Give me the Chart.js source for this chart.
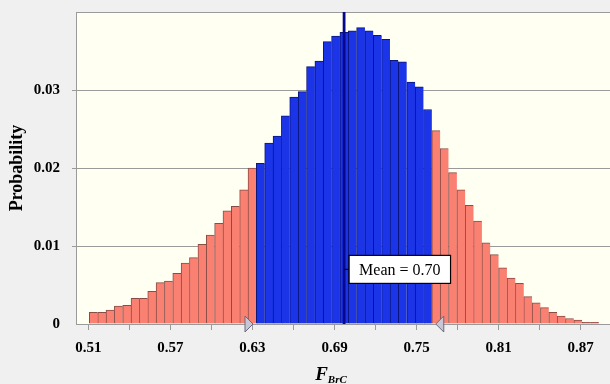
<!DOCTYPE html>
<html>
<head>
<meta charset="utf-8">
<script src="https://cdn.jsdelivr.net/npm/chart.js@4.4.1/dist/chart.umd.min.js"></script>
<style>
  html, body { margin: 0; padding: 0; background: #f0f0f0; }
  #wrap { width: 610px; height: 384px; }
</style>
</head>
<body>
<div id="wrap"><canvas id="histChart" width="610" height="384"></canvas></div>
<script>
// ----------------- DATA -----------------
// bin centres of the forecast histogram (F_BrC)
var binCenters = [
  0.5138, 0.5199, 0.5260, 0.5321, 0.5382, 0.5443, 0.5504, 0.5565, 0.5626, 0.5687,
  0.5748, 0.5809, 0.5870, 0.5932, 0.5993, 0.6054, 0.6115, 0.6176, 0.6237, 0.6298,
  0.6359, 0.6420, 0.6481, 0.6542, 0.6603, 0.6665, 0.6726, 0.6787, 0.6848, 0.6909,
  0.6970, 0.7031, 0.7092, 0.7153, 0.7214, 0.7275, 0.7336, 0.7397, 0.7459, 0.7520,
  0.7581, 0.7642, 0.7703, 0.7764, 0.7825, 0.7886, 0.7947, 0.8008, 0.8069, 0.8130,
  0.8192, 0.8253, 0.8314, 0.8375, 0.8436, 0.8497, 0.8558, 0.8619, 0.8680, 0.8741,
  0.8802
];
// probability of each bin
var probabilities = [
  0.0015, 0.0015, 0.0018, 0.0023, 0.0024, 0.0033, 0.0033, 0.0042, 0.0053, 0.0055,
  0.0065, 0.0078, 0.0085, 0.0102, 0.0114, 0.0129, 0.0145, 0.0151, 0.0172, 0.0200,
  0.0206, 0.0232, 0.0241, 0.0267, 0.0291, 0.0298, 0.0330, 0.0337, 0.0362, 0.0369,
  0.0374, 0.0376, 0.0380, 0.0376, 0.0370, 0.0365, 0.0338, 0.0336, 0.0310, 0.0304,
  0.0275, 0.0248, 0.0225, 0.0194, 0.0172, 0.0152, 0.0132, 0.0104, 0.0089, 0.0072,
  0.0059, 0.0052, 0.0035, 0.0027, 0.0021, 0.0015, 0.0010, 0.0007, 0.0005, 0.0002,
  0.0002
];
var certaintyRange = [0.6326, 0.7611];   // blue part between the two markers
var meanValue = 0.697;
var meanLabel = "Mean = 0.70";
var meanLabelAt = 0.007;                 // y value where the label box sits
var xLabelTicks = ["0.51", "0.57", "0.63", "0.69", "0.75", "0.81", "0.87"];
var yLabelTicks = ["0", "0.01", "0.02", "0.03"];

// ----------------- STYLE -----------------
var SERIF = '"Liberation Serif", "Times New Roman", serif';
var RED = '#fa8072', RED_EDGE = '#8a4c46';
var BLUE = '#1c34e8', BLUE_EDGE = '#0a1678';
var GRID = '#9a9a9a';

function inRange(x) {
  return x >= certaintyRange[0] && x <= certaintyRange[1];
}

var points = [];
for (var i = 0; i < binCenters.length; i++) {
  points.push({x: binCenters[i], y: probabilities[i]});
}

// backgrounds: grey page, ivory plot area
var backgroundPlugin = {
  id: 'bg',
  beforeDraw: function(chart) {
    var c = chart.ctx, a = chart.chartArea;
    c.save();
    c.fillStyle = '#f0f0f0';
    c.fillRect(0, 0, chart.width, chart.height);
    c.fillStyle = '#fffff2';
    c.fillRect(a.left, a.top, a.right - a.left, a.bottom - a.top);
    c.restore();
  }
};

// mean line + label box, certainty markers, x title
var overlayPlugin = {
  id: 'overlay',
  afterDatasetsDraw: function(chart) {
    var c = chart.ctx, a = chart.chartArea;
    var xs = chart.scales.x, ys = chart.scales.y;
    var mx = xs.getPixelForValue(meanValue);
    c.save();
    c.strokeStyle = '#08088c';
    c.lineWidth = 2.8;
    c.beginPath();
    c.moveTo(mx, a.bottom);
    c.lineTo(mx, a.top);
    c.stroke();

    var by = ys.getPixelForValue(meanLabelAt);
    c.font = '16px ' + SERIF;
    var tw = c.measureText(meanLabel).width;
    var bx = mx + 5, bw = tw + 20, bh = 28;
    c.lineWidth = 1.2;
    c.strokeStyle = '#000';
    c.beginPath();
    c.moveTo(mx, by);
    c.lineTo(bx, by);
    c.stroke();
    c.fillStyle = '#fff';
    c.fillRect(bx, by - bh / 2, bw, bh);
    c.strokeRect(bx, by - bh / 2, bw, bh);
    c.fillStyle = '#000';
    c.textAlign = 'center';
    c.textBaseline = 'middle';
    c.fillText(meanLabel, bx + bw / 2, by + 1);
    c.restore();
  },
  afterDraw: function(chart) {
    var c = chart.ctx, a = chart.chartArea;
    var xs = chart.scales.x;
    var y0 = a.bottom;
    c.save();
    c.fillStyle = '#c6c6d6';
    c.strokeStyle = '#6a6a7a';
    c.lineWidth = 1;
    // left marker, points right
    var lx = xs.getPixelForValue(certaintyRange[0]) - 3;
    c.beginPath();
    c.moveTo(lx, y0);
    c.lineTo(lx - 8, y0 - 8);
    c.lineTo(lx - 8, y0 + 8);
    c.closePath();
    c.fill(); c.stroke();
    // right marker, points left
    var rx = xs.getPixelForValue(certaintyRange[1]) + 4;
    c.beginPath();
    c.moveTo(rx, y0);
    c.lineTo(rx + 8, y0 - 8);
    c.lineTo(rx + 8, y0 + 8);
    c.closePath();
    c.fill(); c.stroke();

    // x title: F with subscript BrC
    var cx = (a.left + a.right) / 2 - 12;
    c.fillStyle = '#000';
    c.textBaseline = 'alphabetic';
    c.textAlign = 'left';
    c.font = 'italic bold 19px ' + SERIF;
    var fw = c.measureText('F').width;
    c.font = 'italic bold 11px ' + SERIF;
    var sw = c.measureText('BrC').width;
    var sx = cx - (fw + sw) / 2;
    c.font = 'italic bold 19px ' + SERIF;
    c.fillText('F', sx, 380);
    c.font = 'italic bold 11px ' + SERIF;
    c.fillText('BrC', sx + fw, 383);
    c.restore();
  }
};

var ctx = document.getElementById('histChart');
var histChart = new Chart(ctx, {
  type: 'bar',
  data: {
    datasets: [{
      data: points,
      backgroundColor: function(c) { return inRange(binCenters[c.dataIndex]) ? BLUE : RED; },
      borderColor: function(c) { return inRange(binCenters[c.dataIndex]) ? BLUE_EDGE : RED_EDGE; },
      borderWidth: {left: 1, top: 1, right: 0, bottom: 0},
      borderSkipped: false,
      barPercentage: 1,
      categoryPercentage: 1
    }]
  },
  options: {
    responsive: false,
    animation: false,
    events: [],
    layout: {padding: {top: 12, left: 0, right: 0, bottom: 0}},
    plugins: {legend: {display: false}, tooltip: {enabled: false}},
    scales: {
      x: {
        type: 'linear',
        min: 0.501,
        max: 0.8914,
        offset: false,
        grid: {display: true, offset: false, drawOnChartArea: false, drawTicks: true,
               tickLength: 6, color: GRID},
        border: {display: true, color: GRID, width: 1},
        ticks: {
          stepSize: 0.03,
          includeBounds: false,
          autoSkip: false,
          maxRotation: 0,
          padding: 9,
          color: '#000',
          font: {family: SERIF, size: 15, weight: 'bold'},
          callback: function(v) {
            var s = v.toFixed(2);
            return xLabelTicks.indexOf(s) >= 0 ? s : '';
          }
        },
        afterFit: function(scale) { scale.height = 60; }
      },
      y: {
        min: 0,
        max: 0.04,
        grid: {color: GRID, lineWidth: 1, tickLength: 4,
               tickColor: function(c) {
                 return (c.tick && (c.tick.value === 0 || c.tick.value > 0.035)) ? 'rgba(0,0,0,0)' : GRID;
               }},
        border: {display: true, color: GRID, width: 1},
        ticks: {
          stepSize: 0.01,
          padding: 12,
          color: '#000',
          font: {family: SERIF, size: 15, weight: 'bold'},
          callback: function(v) {
            var s = v === 0 ? '0' : v.toFixed(2);
            return yLabelTicks.indexOf(s) >= 0 ? s : '';
          }
        },
        title: {
          display: true,
          text: 'Probability',
          color: '#000',
          padding: {top: 7, bottom: 0},
          font: {family: SERIF, size: 18, weight: 'bold'}
        },
        afterFit: function(scale) {
          scale.width = 76;
          scale.paddingTop = 0;
          scale.paddingBottom = 0;
        }
      }
    }
  },
  plugins: [backgroundPlugin, overlayPlugin]
});
</script>
</body>
</html>
